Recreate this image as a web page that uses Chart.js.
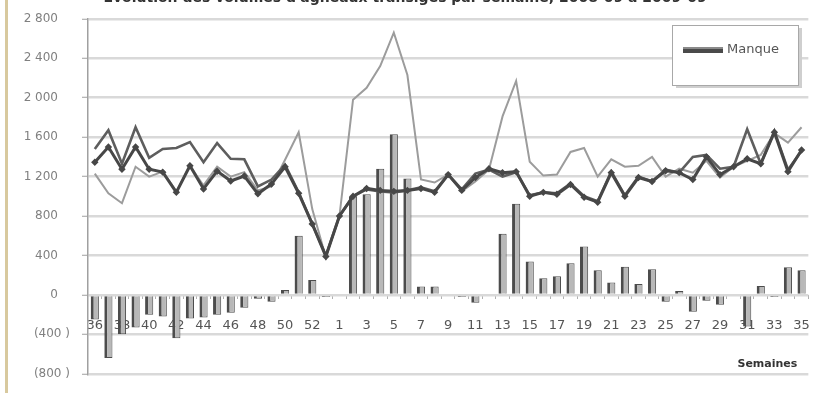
<!DOCTYPE html>
<html>
<head>
<meta charset="utf-8">
<script src="https://cdn.jsdelivr.net/npm/chart.js@4.4.1/dist/chart.umd.min.js"></script>
<style>
  html, body { margin: 0; padding: 0; background: #fff; overflow: hidden; }
  #wrap { position: relative; width: 829px; height: 393px; overflow: hidden; background: #fff; }
  #edge { position: absolute; left: 5px; top: 0; width: 3px; height: 393px; background: #d8c99e; z-index: 2; }
  #c { position: absolute; left: 0; top: -12px; }
</style>
</head>
<body>
<div id="wrap"><div id="edge"></div><canvas id="c" width="829" height="405"></canvas></div>
<script>
// Semaines : 36 à 53, puis 1 à 35
const weeks = ['36','37','38','39','40','41','42','43','44','45','46','47','48','49','50','51','52','53',
  '1','2','3','4','5','6','7','8','9','10','11','12','13','14','15','16','17','18','19','20',
  '21','22','23','24','25','26','27','28','29','30','31','32','33','34','35'];

// Écart hebdomadaire (barres)
const manque = [-250,-640,-400,-330,-200,-220,-440,-240,-230,-200,-180,-130,-40,-70,50,600,150,-20,
  0,1000,1020,1280,1630,1180,85,85,0,-20,-80,0,620,925,340,170,190,320,490,250,
  125,285,110,260,-70,40,-170,-60,-100,0,-320,90,-20,280,250];

// Offre (ligne fine)
const offre = [1230,1030,930,1300,1200,1250,1050,1310,1110,1300,1200,1245,1060,1100,1370,1650,870,380,
  800,1980,2100,2320,2660,2230,1170,1140,1220,1050,1150,1270,1810,2170,1350,1210,1220,1450,1490,1200,
  1375,1300,1310,1400,1200,1280,1240,1360,1190,1300,1360,1420,1640,1545,1700];

// Demande
const demande = [1480,1670,1330,1700,1390,1480,1490,1550,1345,1540,1380,1375,1100,1170,1320,1040,720,400,
  800,1000,1070,1050,1040,1060,1090,1050,1220,1070,1230,1270,1200,1245,1010,1040,1030,1130,1000,950,
  1250,1010,1200,1150,1270,1240,1400,1420,1280,1300,1680,1330,1660,1270,1460];

// Volumes transigés
const transige = [1345,1500,1275,1500,1275,1245,1040,1310,1075,1255,1155,1205,1025,1125,1300,1030,720,390,
  800,1000,1080,1060,1050,1060,1080,1040,1220,1060,1190,1280,1240,1250,1000,1040,1020,1120,990,940,
  1240,1000,1190,1150,1260,1240,1170,1400,1220,1300,1380,1330,1650,1250,1470];

const yTicks = { min: -800, max: 2800, step: 400 };

function fmtNum(v) {
  const a = Math.abs(v);
  const s = a >= 1000 ? Math.floor(a / 1000) + ' ' + String(a % 1000).padStart(3, '0') : String(a);
  return v < 0 ? '(' + s + ' )' : s + '\u2002\u2002';
}

// Encadré de légende avec ombre, pour la série en barres
const boxLegend = {
  id: 'boxLegend',
  afterDraw(chart) {
    const ctx = chart.ctx;
    const x = 672, y = 37, w = 126, h = 60;
    ctx.save();
    ctx.fillStyle = '#cfcfcf';
    ctx.fillRect(x + 4, y + 3, w, h);
    ctx.fillStyle = '#ffffff';
    ctx.fillRect(x, y, w, h);
    ctx.strokeStyle = '#a8a8a8';
    ctx.lineWidth = 1;
    ctx.strokeRect(x + 0.5, y + 0.5, w, h);
    ctx.fillStyle = '#4a4a4a';
    ctx.fillRect(x + 11, y + 22, 40, 6);
    ctx.fillStyle = '#8a8a8a';
    ctx.fillRect(x + 11, y + 22, 40, 2);
    ctx.fillStyle = '#555555';
    ctx.font = '13px "DejaVu Sans"';
    ctx.textBaseline = 'middle';
    ctx.textAlign = 'left';
    ctx.fillText(chart.data.datasets[0].label, x + 55, y + 25);
    ctx.restore();
  }
};

new Chart(document.getElementById('c'), {
  data: {
    labels: weeks,
    datasets: [
      {
        type: 'bar', label: 'Manque', data: manque, order: 4,
        backgroundColor: '#b8b8b8', borderColor: '#4c4c4c',
        borderWidth: { left: 3, right: 1, top: 1, bottom: 1 }, borderSkipped: 'start',
        barPercentage: 0.6, categoryPercentage: 1
      },
      {
        type: 'line', label: 'Offre', data: offre, order: 3,
        borderColor: '#9c9c9c', borderWidth: 2, pointRadius: 0, tension: 0, fill: false
      },
      {
        type: 'line', label: 'Demande', data: demande, order: 2,
        borderColor: '#5e5e5e', borderWidth: 2.6, pointRadius: 0, tension: 0, fill: false
      },
      {
        type: 'line', label: 'Transigé', data: transige, order: 1,
        borderColor: '#474747', borderWidth: 3, pointRadius: 1.6, pointStyle: 'rectRot',
        pointBackgroundColor: '#474747', pointBorderColor: '#474747', tension: 0, fill: false
      }
    ]
  },
  options: {
    responsive: false,
    animation: false,
    layout: { padding: { left: 0, right: 19, top: 0, bottom: 17 } },
    plugins: {
      legend: { display: false },
      tooltip: { enabled: false },
      title: {
        display: true,
        text: "Évolution des volumes d'agneaux transigés par semaine, 2008-09 à 2009-09",
        color: '#333333',
        font: { family: 'DejaVu Sans', size: 14, weight: 'bold' },
        padding: { top: 2, bottom: 12 }
      }
    },
    scales: {
      x: {
        position: { y: 0 },
        offset: true,
        grid: { drawOnChartArea: false, drawTicks: true, tickLength: 4, tickColor: '#b0b0b0' },
        border: { display: false },
        ticks: {
          autoSkip: false, maxRotation: 0, padding: 19,
          color: '#555555', font: { family: 'DejaVu Sans', size: 13 },
          callback: (v, i) => (i % 2 === 0 ? weeks[i] : '')
        },
        title: {
          display: true, text: 'Semaines\u2003', align: 'end',
          color: '#333333', font: { family: 'DejaVu Sans', size: 11, weight: 'bold' },
          padding: { top: 5, bottom: 0 }
        }
      },
      y: {
        min: yTicks.min, max: yTicks.max,
        afterFit: s => { s.width = 88; },
        grid: { color: '#d9d9d9', lineWidth: 2.5, tickLength: 6, tickColor: '#a0a0a0', tickWidth: 1 },
        border: { display: true, color: '#a0a0a0', width: 1.5 },
        ticks: {
          stepSize: yTicks.step, padding: 12,
          color: '#808080', font: { family: 'DejaVu Sans', size: 12 },
          callback: v => fmtNum(v)
        }
      }
    }
  },
  plugins: [boxLegend]
});
</script>
</body>
</html>
